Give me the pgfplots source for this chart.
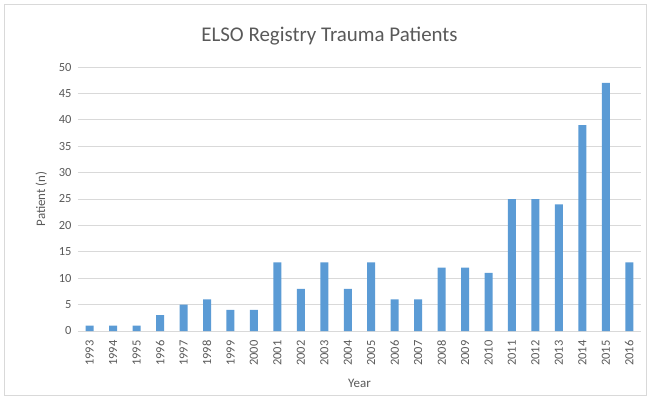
\documentclass[border=0pt]{standalone}
\usepackage{pgfplots}
\pgfplotsset{compat=1.18}
\usepackage{fontspec}
\setmainfont{Carlito}
\definecolor{barblue}{HTML}{5B9BD5}
\definecolor{txtgray}{HTML}{595959}
\definecolor{gridgray}{HTML}{D9D9D9}
\begin{document}
\begin{tikzpicture}[x=1bp,y=1bp]
\path[use as bounding box] (-78bp,331bp) rectangle (572bp,-76bp);
\draw[gridgray] (-74bp,327bp) rectangle (568bp,-64bp);
\begin{axis}[
  at={(0,0)}, anchor=south west,
  scale only axis, width=563bp, height=264bp,
  ybar, bar width=8bp,
  xmin=-0.5, xmax=23.5, ymin=0, ymax=50,
  ytick={0,5,...,50},
  xtick=data,
  xticklabels={1993,1994,1995,1996,1997,1998,1999,2000,2001,2002,2003,2004,2005,2006,2007,2008,2009,2010,2011,2012,2013,2014,2015,2016},
  x tick label style={rotate=90, anchor=east, font=\fontsize{12.5}{13}\selectfont, text=txtgray},
  y tick label style={font=\fontsize{12.5}{13}\selectfont, text=txtgray},
  xticklabel shift={6bp}, yticklabel shift={3bp},
  /pgf/number format/assume math mode=true,
  ymajorgrids, grid style={gridgray, line width=0.8pt},
  axis lines*=left,
  x axis line style={gridgray, line width=0.8pt},
  y axis line style={draw=none},
  major tick length=0pt,
  xlabel={Year}, ylabel={Patient (n)},
  xlabel style={font=\fontsize{13}{15}\selectfont, text=txtgray, yshift=-7bp},
  ylabel style={font=\fontsize{13}{15}\selectfont, text=txtgray, yshift=5bp},
  title={ELSO Registry Trauma Patients},
  title style={font=\fontsize{21}{23}\selectfont, text=txtgray, yshift=12bp, xshift=-30bp},
  clip=false,
]
\addplot[fill=barblue, draw=none] coordinates {
(0,1) (1,1) (2,1) (3,3) (4,5) (5,6) (6,4) (7,4) (8,13) (9,8) (10,13) (11,8)
(12,13) (13,6) (14,6) (15,12) (16,12) (17,11) (18,25) (19,25) (20,24) (21,39) (22,47) (23,13)};
\end{axis}
\end{tikzpicture}
\end{document}
